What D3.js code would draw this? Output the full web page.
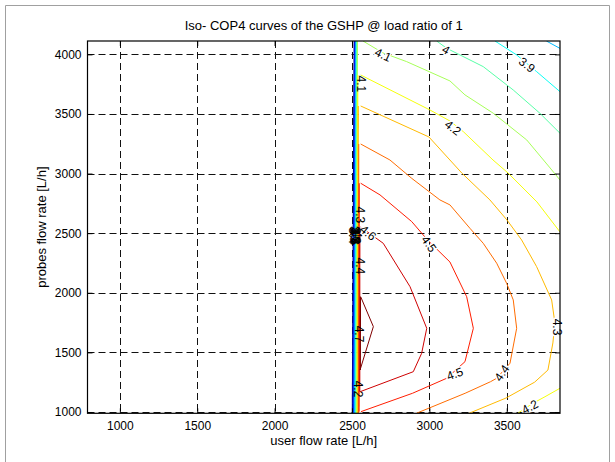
<!doctype html>
<html lang="en">
<head>
	<meta charset="UTF-8">
	<title>Iso- COP4 curves</title>
	<style>
		body { margin: 0; background: #fff; }
		svg text { font-family: Arial, "Liberation Sans", Helvetica, sans-serif; fill: #000; }
		.grid line { stroke: #111; stroke-width: 1; stroke-dasharray: 7,4; }
		.tick text { font-size: 12px; }
		.clabel { font-size: 12px; text-anchor: middle; dominant-baseline: central; }
		.halo { stroke: #fff; stroke-width: 3px; paint-order: stroke; stroke-linejoin: round; }
	</style>
</head>
<body>
	<script src="https://cdn.jsdelivr.net/npm/d3@7/dist/d3.min.js"></script>
	<script>
		// contour levels (COP)
		var levels = [3.4, 3.5, 3.6, 3.7, 3.8, 3.9, 4.0, 4.1, 4.2, 4.3, 4.4, 4.5, 4.6, 4.7];

		var xTicks = [1000, 1500, 2000, 2500, 3000, 3500],
			yTicks = [1000, 1500, 2000, 2500, 3000, 3500, 4000];

		// the steep vertical bundle near 2500 L/h, one line per level
		var bundleBottomX = [2502, 2506, 2510, 2514, 2518, 2522, 2526, 2530, 2534, 2538, 2542, 2546, 2550, 2554],
			bundleTopX    = [2514, 2517, 2520, 2523, 2526, 2529, 2532, 2535, 2538, 2541, 2544, 2547, 2551, 2556],
			bundleLow     = [989, 989, 989, 989, 989, 989, 989, 989, 989, 989, 989, 1003, 1170, 1352],
			bundleHigh    = [4112, 4112, 4112, 4112, 4112, 4112, 4112, 4112, 3827, 3567, 3248, 2919, 2552, 1967];

		// contour branches leaving the bundle [user flow, probes flow]
		var c38 = [[3756, 4112], [3844, 4050]];
		var c39 = [[3424, 4112], [3564, 3995], [3693, 3855], [3844, 3687]];
		var c40 = [[3047, 4112], [3112, 4051], [3348, 3897], [3542, 3701], [3714, 3506], [3844, 3338]];
		var c41 = [[2571, 4112], [2700, 4012], [2853, 3939], [3133, 3777], [3230, 3660], [3413, 3506],
			[3629, 3282], [3780, 3047], [3844, 2946]];
		var c42 = [[2556, 3827], [3004, 3533], [3133, 3441], [3219, 3352], [3411, 3114], [3508, 3005],
			[3695, 2762], [3844, 2510]];
		var c42b = [[3844, 1199], [3747, 1128], [3665, 1070], [3571, 989]];
		var c43 = [[2556, 3567], [2997, 3307], [3209, 3005], [3391, 2779], [3501, 2611], [3596, 2443],
			[3693, 2219], [3790, 1940], [3811, 1747], [3798, 1579], [3766, 1352], [3680, 1250],
			[3495, 1117], [3256, 989]];
		var c44 = [[2556, 3248], [2745, 3114], [2886, 2960], [3068, 2779], [3133, 2737], [3262, 2541],
			[3348, 2415], [3435, 2248], [3499, 2080], [3542, 1940], [3564, 1702], [3521, 1409],
			[3435, 1283], [3395, 1254], [3231, 1157], [2916, 989]];
		var c45 = [[2556, 2919], [2681, 2821], [2886, 2597], [2990, 2440], [3133, 2258], [3241, 1967],
			[3284, 1702], [3230, 1422], [3112, 1283], [2891, 1157], [2558, 1003]];
		var c46 = [[2556, 2552], [2702, 2415], [2875, 2051], [2983, 1702], [2950, 1492], [2896, 1338],
			[2552, 1170]];
		var c47 = [[2556, 1967], [2638, 1716], [2552, 1352]];

		var branches = [
			{ level: 3.8, pts: c38 }, { level: 3.9, pts: c39 }, { level: 4.0, pts: c40 },
			{ level: 4.1, pts: c41 }, { level: 4.2, pts: c42 }, { level: 4.2, pts: c42b },
			{ level: 4.3, pts: c43 }, { level: 4.4, pts: c44 }, { level: 4.5, pts: c45 },
			{ level: 4.6, pts: c46 }, { level: 4.7, pts: c47 }
		];

		// inline contour labels: text, position, angle
		var labelText  = ['4.1', '4', '3.9', '4.2', '4.5', '4.5', '4.4', '4.3', '4.2', '4.6'],
			labelX     = [2700, 3107, 3630, 3152, 2997, 3165, 3469, 3825, 3650, 2603],
			labelY     = [3995, 4037, 3911, 3383, 2409, 1319, 1327, 1713, 1042, 2502],
			labelAngle = [25, 30, 38, 38, 55, -20, -55, 90, -28, 40];

		// labels sitting on the vertical bundle
		var bundleLabelText = ['3.4', '3.5', '3.6', '3.7', '3.8', '3.9', '4', '4.1', '4.3', '4.4', '4.7', '4.2'],
			bundleLabelX    = [2506, 2510, 2514, 2518, 2522, 2526, 2530, 2558, 2552, 2552, 2545, 2539],
			bundleLabelY    = [2480, 2490, 2470, 2485, 2475, 2480, 2490, 3752, 2653, 2225, 1654, 1193];

		var W = 615, H = 462,
			mLeft = 87.5, mRight = 560, mTop = 41, mBottom = 413.3;

		var svg = d3.select('body').append('svg')
			.attr('width', W)
			.attr('height', H);

		// figure frame
		svg.append('path')
			.attr('d', 'M5.5,' + H + 'V5.5H609.5V' + H)
			.attr('fill', 'none')
			.attr('stroke', '#a0a0a0');

		var x = d3.scaleLinear().domain([791, 3844]).range([mLeft, mRight]),
			y = d3.scaleLinear().domain([989, 4112]).range([mBottom, mTop]);

		var jet = d3.scaleLinear()
			.domain([0, 0.125, 0.375, 0.625, 0.875, 1])
			.range(['#000080', '#0000ff', '#00ffff', '#ffff00', '#ff0000', '#800000'])
			.clamp(true);
		var levelColor = function(L) {
			return jet((L - levels[0]) / (levels[levels.length - 1] - levels[0]));
		};

		svg.append('defs').append('clipPath').attr('id', 'plot')
			.append('rect')
			.attr('x', mLeft).attr('y', mTop)
			.attr('width', mRight - mLeft).attr('height', mBottom - mTop);

		// grid
		var grid = svg.append('g').attr('class', 'grid');
		grid.selectAll('.gx').data(xTicks).enter().append('line')
			.attr('x1', function(d) { return Math.round(x(d)) + 0.5; })
			.attr('x2', function(d) { return Math.round(x(d)) + 0.5; })
			.attr('y1', mTop).attr('y2', mBottom);
		grid.selectAll('.gy').data(yTicks).enter().append('line')
			.attr('y1', function(d) { return Math.round(y(d)) + 0.5; })
			.attr('y2', function(d) { return Math.round(y(d)) + 0.5; })
			.attr('x1', mLeft).attr('x2', mRight);

		var line = d3.line()
			.x(function(d) { return x(d[0]); })
			.y(function(d) { return y(d[1]); });

		var plot = svg.append('g').attr('clip-path', 'url(#plot)');

		// vertical bundle
		levels.forEach(function(L, i) {
			var frac = function(v) { return (v - 989) / (4112 - 989); };
			var xb = bundleBottomX[i], xt = bundleTopX[i];
			var pts = [
				[xb + frac(bundleLow[i]) * (xt - xb), bundleLow[i]],
				[xb + frac(bundleHigh[i]) * (xt - xb), bundleHigh[i]]
			];
			plot.append('path')
				.attr('d', line(pts))
				.attr('fill', 'none')
				.attr('stroke', levelColor(L))
				.attr('stroke-width', 1.1);
		});

		// branches
		plot.selectAll('.branch').data(branches).enter().append('path')
			.attr('class', 'branch')
			.attr('d', function(d) { return line(d.pts); })
			.attr('fill', 'none')
			.attr('stroke', function(d) { return levelColor(d.level); })
			.attr('stroke-width', 1);

		// labels
		labelText.forEach(function(t, i) {
			svg.append('text')
				.attr('class', 'clabel halo')
				.attr('transform', 'translate(' + x(labelX[i]) + ',' + y(labelY[i]) + ') rotate(' + labelAngle[i] + ')')
				.text(t);
		});
		bundleLabelText.forEach(function(t, i) {
			svg.append('text')
				.attr('class', 'clabel')
				.attr('transform', 'translate(' + x(bundleLabelX[i]) + ',' + y(bundleLabelY[i]) + ') rotate(90)')
				.text(t);
		});

		// axes, ticks pointing inward
		var ax = svg.append('g').attr('transform', 'translate(0,' + mBottom + ')')
			.call(d3.axisBottom(x).tickValues(xTicks).tickSize(-5).tickPadding(8).tickFormat(d3.format('d')));
		var axT = svg.append('g').attr('transform', 'translate(0,' + mTop + ')')
			.call(d3.axisTop(x).tickValues(xTicks).tickSize(-5).tickFormat(''));
		var ay = svg.append('g').attr('transform', 'translate(' + mLeft + ',0)')
			.call(d3.axisLeft(y).tickValues(yTicks).tickSize(-5).tickPadding(6).tickFormat(d3.format('d')));
		var ayR = svg.append('g').attr('transform', 'translate(' + mRight + ',0)')
			.call(d3.axisRight(y).tickValues(yTicks).tickSize(-5).tickFormat(''));
		[ax, axT, ay, ayR].forEach(function(g) {
			g.select('.domain').remove();
			g.selectAll('.tick line').attr('stroke', '#000');
			g.selectAll('text').attr('font-size', 12).attr('font-family', null);
		});

		// box
		svg.append('rect')
			.attr('x', mLeft).attr('y', mTop)
			.attr('width', mRight - mLeft).attr('height', mBottom - mTop)
			.attr('fill', 'none')
			.attr('stroke', '#000')
			.attr('stroke-width', 1.2);

		// titles
		svg.append('text')
			.attr('x', (mLeft + mRight) / 2).attr('y', 30)
			.attr('text-anchor', 'middle')
			.style('font-size', '13px')
			.text('Iso- COP4 curves of the GSHP @ load ratio of 1');
		svg.append('text')
			.attr('x', (mLeft + mRight) / 2).attr('y', 445)
			.attr('text-anchor', 'middle')
			.style('font-size', '13px')
			.text('user flow rate [L/h]');
		svg.append('text')
			.attr('transform', 'translate(46,' + (mTop + mBottom) / 2 + ') rotate(-90)')
			.attr('text-anchor', 'middle')
			.style('font-size', '13px')
			.text('probes flow rate [L/h]');
	</script>
</body>
</html>
